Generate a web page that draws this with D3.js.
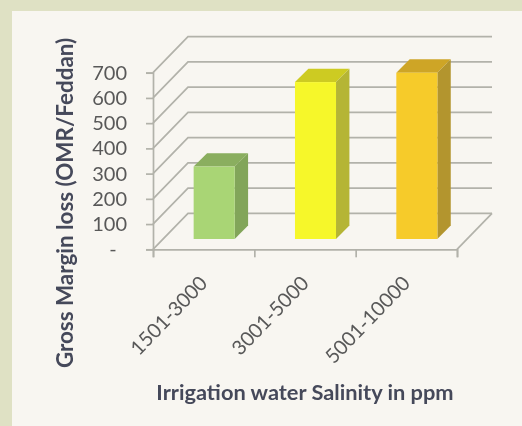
<!DOCTYPE html>
<html>
<head>
<meta charset="utf-8">
<script src="https://cdn.jsdelivr.net/npm/d3@7"></script>
<style>
html, body { margin: 0; padding: 0; background: #f8f6f1; }
svg { display: block; }
text { font-family: Lato, "Open Sans", sans-serif; }
</style>
</head>
<body>
<div id="chart"></div>
<script>
// Data
var categories = ["1501-3000", "3001-5000", "5001-10000"];
var values = [287, 622, 659];
var yTicks = [0, 100, 200, 300, 400, 500, 600, 700];
var yTickLabels = ["-\u00a0\u00a0", "100", "200", "300", "400", "500", "600", "700"];
var xTitle = "Irrigation water Salinity in ppm";
var yTitle = "Gross Margin loss (OMR/Feddan)";

var frontColors = ["#a9d574", "#f6f72c", "#f6cb2c"];
var topColors = ["#8aae5e", "#cdcb22", "#cea526"];
var sideColors = ["#82a55a", "#b5b536", "#b3952e"];

var width = 522, height = 426;
var plotLeft = 153, plotRight = 457, plotBottom = 249.3, plotTop = 72.7;
var wallDx = 35, wallDy = 36;   // offset of the back wall
var barDepth = 13.4;            // depth of a bar
var barDx = 10.5, barDy = 10.3; // where the bar stands on the floor
var gridColor = "#b2b2aa";

var svg = d3.select("#chart").append("svg")
    .attr("width", width)
    .attr("height", height);

var defs = svg.append("defs");
defs.append("filter").attr("id", "soft")
    .attr("filterUnits", "userSpaceOnUse")
    .attr("x", 0).attr("y", 0).attr("width", width).attr("height", height)
    .append("feGaussianBlur").attr("stdDeviation", 0.45);

// frame + panel
svg.append("rect").attr("width", width).attr("height", height).attr("fill", "#dfe1c4");
svg.append("rect").attr("x", 12).attr("y", 11)
    .attr("width", width - 12).attr("height", height - 11).attr("fill", "#f8f6f1");

var chart = svg.append("g").attr("filter", "url(#soft)");

var y = d3.scaleLinear().domain([0, 700]).range([plotBottom, plotTop]);
var x = d3.scaleBand().domain(categories).range([plotLeft, plotRight])
    .paddingInner(0.595).paddingOuter(0.2975);
var xEdges = d3.scaleLinear().domain([0, categories.length]).range([plotLeft, plotRight]);

// gridlines on side wall and back wall
chart.append("g").selectAll("polyline")
    .data(yTicks)
    .enter()
    .append("polyline")
      .attr("points", function(d) {
        return [[plotLeft, y(d)], [plotLeft + wallDx, y(d) - wallDy], [plotRight + wallDx, y(d) - wallDy]].join(" ");
      })
      .attr("fill", "none")
      .attr("stroke", gridColor)
      .attr("stroke-width", 1.7);

// right edge of the floor
chart.append("line")
    .attr("x1", plotRight).attr("y1", y(0))
    .attr("x2", plotRight + wallDx).attr("y2", y(0) - wallDy)
    .attr("stroke", gridColor).attr("stroke-width", 1.7);

// axes
var yAxis = d3.axisLeft(y)
    .tickValues(yTicks)
    .tickSize(7)
    .tickPadding(19)
    .tickFormat(function(d, i) { return yTickLabels[i]; });

var yAxisG = chart.append("g").attr("transform", "translate(" + plotLeft + ",0)").call(yAxis);

var xTicksG = chart.append("g").attr("transform", "translate(0," + plotBottom + ")")
    .call(d3.axisBottom(xEdges).ticks(categories.length).tickSize(8).tickFormat(""));

[yAxisG, xTicksG].forEach(function(g) {
    g.selectAll("path").attr("stroke", gridColor).attr("stroke-width", 1.7);
    g.selectAll("line").attr("stroke", gridColor).attr("stroke-width", 1.7);
});
yAxisG.selectAll("text")
    .attr("fill", "#595959")
    .style("font-size", "20px");

var xLabels = chart.append("g").attr("transform", "translate(0," + plotBottom + ")")
    .call(d3.axisBottom(x).tickSize(0).tickPadding(0));
xLabels.select("path").remove();
xLabels.selectAll("text")
    .attr("fill", "#595959")
    .style("font-size", "20px")
    .attr("text-anchor", "end")
    .attr("dy", 0)
    .attr("y", 0)
    .attr("transform", "translate(5,35) rotate(-46)");

// bars
var bars = chart.append("g").selectAll("g")
    .data(values)
    .enter()
    .append("g");

function barBox(d, i) {
    var x0 = x(categories[i]) + barDx;
    return {
        x0: x0,
        x1: x0 + x.bandwidth(),
        y0: y(0) - barDy,
        y1: y(d) - barDy
    };
}

bars.append("polygon") // top
    .attr("points", function(d, i) {
        var b = barBox(d, i);
        return [[b.x0, b.y1], [b.x1, b.y1], [b.x1 + barDepth, b.y1 - barDepth], [b.x0 + barDepth, b.y1 - barDepth]].join(" ");
    })
    .attr("fill", function(d, i) { return topColors[i]; });

bars.append("polygon") // side
    .attr("points", function(d, i) {
        var b = barBox(d, i);
        return [[b.x1, b.y1], [b.x1 + barDepth, b.y1 - barDepth], [b.x1 + barDepth, b.y0 - barDepth], [b.x1, b.y0]].join(" ");
    })
    .attr("fill", function(d, i) { return sideColors[i]; });

bars.append("rect") // front
    .attr("x", function(d, i) { return barBox(d, i).x0; })
    .attr("y", function(d, i) { return barBox(d, i).y1; })
    .attr("width", x.bandwidth())
    .attr("height", function(d, i) { var b = barBox(d, i); return b.y0 - b.y1; })
    .attr("fill", function(d, i) { return frontColors[i]; });

// axis titles
chart.append("text")
    .attr("x", 305).attr("y", 400)
    .attr("text-anchor", "middle")
    .attr("fill", "#45485a")
    .style("font-size", "21.8px")
    .style("font-weight", "700")
    .text(xTitle);

chart.append("text")
    .attr("transform", "translate(73,203) rotate(-90)")
    .attr("text-anchor", "middle")
    .attr("fill", "#45485a")
    .style("font-size", "22.4px")
    .style("font-weight", "700")
    .text(yTitle);
</script>
</body>
</html>
